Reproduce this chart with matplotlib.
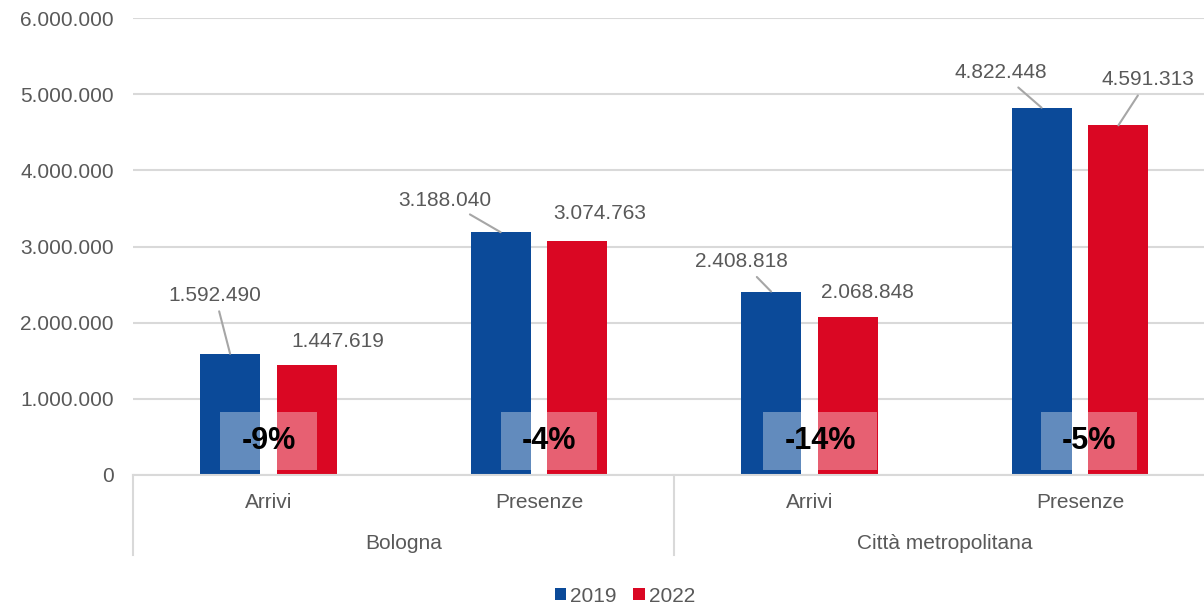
import matplotlib
matplotlib.use("Agg")
import matplotlib.pyplot as plt
from matplotlib.patches import Patch, Rectangle
from matplotlib.ticker import FuncFormatter
import numpy as np

# === Data ===
categories = ["Arrivi", "Presenze", "Arrivi", "Presenze"]
groups = ["Bologna", "Città metropolitana"]
v2019 = [1592490, 3188040, 2408818, 4822448]
v2022 = [1447619, 3074763, 2068848, 4591313]
pct_labels = ["-9%", "-4%", "-14%", "-5%"]
series_names = ["2019", "2022"]

BLUE = "#0B4A99"
RED = "#DA0723"
GRAY_TXT = "#595959"
GRID = "#D9D9D9"
LEADER = "#A6A6A6"

plt.rcParams['font.family'] = ['Liberation Sans', 'DejaVu Sans']

def it_fmt(v):
    return f"{int(round(v)):,}".replace(",", ".")

W, H = 1204, 607
fig = plt.figure(figsize=(W / 100, H / 100), dpi=100)
ax = fig.add_axes([133.25 / W, 1 - 475 / H, 1082 / W, 457 / H])
ax.set_xlim(-0.5, 3.5)
ax.set_ylim(0, 6_000_000)

x = np.arange(len(categories))
off, bw = 0.142, 0.222
ax.bar(x - off, v2019, bw, color=BLUE, zorder=2)
ax.bar(x + off, v2022, bw, color=RED, zorder=2)

# grid / axes
ax.set_yticks(np.arange(0, 6_000_001, 1_000_000))
ax.yaxis.set_major_formatter(FuncFormatter(lambda v, p: it_fmt(v)))
ax.grid(axis="y", color=GRID, linewidth=1.5, zorder=0)
ax.tick_params(axis="y", length=0, pad=14, labelsize=15, labelcolor=GRAY_TXT)
ax.set_xticks(x)
ax.set_xticklabels(categories)
ax.tick_params(axis="x", length=0, pad=13, labelsize=15, labelcolor=GRAY_TXT)
for s in ["top", "right", "left"]:
    ax.spines[s].set_visible(False)
ax.spines["bottom"].set_color(GRID)
ax.spines["bottom"].set_linewidth(1.5)

# multi-level category separators
for xs in [-0.5, 1.5]:
    ax.plot([xs, xs], [0, -0.175], color=GRID, linewidth=1.5,
            transform=ax.get_xaxis_transform(), clip_on=False)
for i, g in enumerate(groups):
    ax.text(0.5 + 2 * i, -0.149, g, transform=ax.get_xaxis_transform(),
            ha="center", va="center", fontsize=15, color=GRAY_TXT)

# value labels (positions)
lbl_2019 = [(-0.198, 2_363_000, True), (0.653, 3_610_000, True),
            (1.750, 2_800_000, True), (2.708, 5_285_000, True)]
lbl_2022 = [(0.257, 1_759_000, False), (1.225, 3_430_000, False),
            (2.213, 2_390_000, False), (3.252, 5_190_000, True)]
for vals, pos, sgn in [(v2019, lbl_2019, -1), (v2022, lbl_2022, 1)]:
    for i, (v, (lx, ly, leader)) in enumerate(zip(vals, pos)):
        props = dict(arrowstyle="-", color=LEADER, lw=1.5, shrinkA=3, shrinkB=0) if leader else None
        ax.annotate(it_fmt(v), xy=(i + sgn * off, v), xytext=(lx, ly),
                    ha="center", va="center", fontsize=15, color=GRAY_TXT,
                    arrowprops=props, zorder=4)

# change % boxes
box_shift = [0.0, 0.037, 0.039, 0.033]
box_w = [0.359, 0.355, 0.421, 0.355]
for i, lab in enumerate(pct_labels):
    cx = i + box_shift[i]
    ax.add_patch(Rectangle((cx - box_w[i] / 2, 66_000), box_w[i], 761_000,
                           facecolor="white", alpha=0.36, edgecolor="none", zorder=3))
    ax.text(cx, 450_000, lab, ha="center", va="center", fontsize=22,
            fontweight="bold", color="black", zorder=4)

handles = [Patch(facecolor=BLUE), Patch(facecolor=RED)]
fig.legend(handles, series_names, loc="center", bbox_to_anchor=(0.519, 0.018),
           ncol=2, frameon=False, fontsize=15, labelcolor=GRAY_TXT,
           handlelength=0.55, handleheight=0.55, handletextpad=0.2,
           columnspacing=0.8)

fig.savefig("out.png", dpi=100)
